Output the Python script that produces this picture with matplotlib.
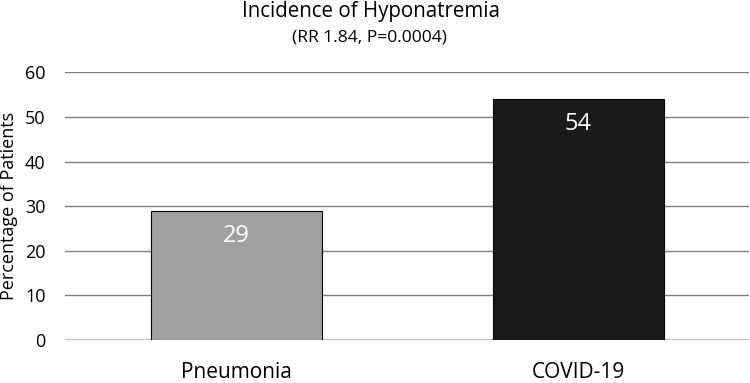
import matplotlib
matplotlib.use("Agg")
import matplotlib.pyplot as plt

categories = ["Pneumonia", "COVID-19"]
values = [29, 54]
bar_colors = ["#a0a0a0", "#1a1a1a"]
yticks = [0, 10, 20, 30, 40, 50, 60]
title = "Incidence of Hyponatremia"
subtitle = "(RR 1.84, P=0.0004)"
ylabel = "Percentage of Patients"

plt.rcParams['font.family'] = ['Open Sans', 'DejaVu Sans']

fig = plt.figure(figsize=(7.5, 3.83), dpi=100)
ax = fig.add_axes([65/750, 1-340/383, 684/750, (340-72.3)/383])

x = list(range(len(categories)))
bars = ax.bar(x, values, width=0.5, color=bar_colors, edgecolor="black", linewidth=0.8, zorder=3)
ax.set_xlim(-0.5, len(categories) - 0.5)
ax.set_ylim(0, 60)
ax.set_yticks(yticks)
ax.set_xticks(x)
ax.set_xticklabels(categories, fontsize=15)
ax.tick_params(axis='y', length=0, pad=14, labelsize=13)
ax.tick_params(axis='x', length=0, pad=16)
for s in ax.spines.values():
    s.set_visible(False)
ax.grid(axis='y', color="#7f7f7f", linewidth=1.0, zorder=0)
ax.axhline(0, color="#c8c8c8", linewidth=1.2, zorder=1)
ax.set_ylabel(ylabel, fontsize=13, labelpad=5)

for xi, v in zip(x, values):
    ax.annotate(str(v), (xi, v), xytext=(0, -25), textcoords="offset pixels",
                ha="center", va="center", color="white", fontsize=17, zorder=4)

fig.text(371/750, 1-12/383, title, ha="center", va="center", fontsize=14.8)
fig.text(369/750, 1-37/383, subtitle, ha="center", va="center", fontsize=12.6)

fig.savefig("out.png", dpi=100)
